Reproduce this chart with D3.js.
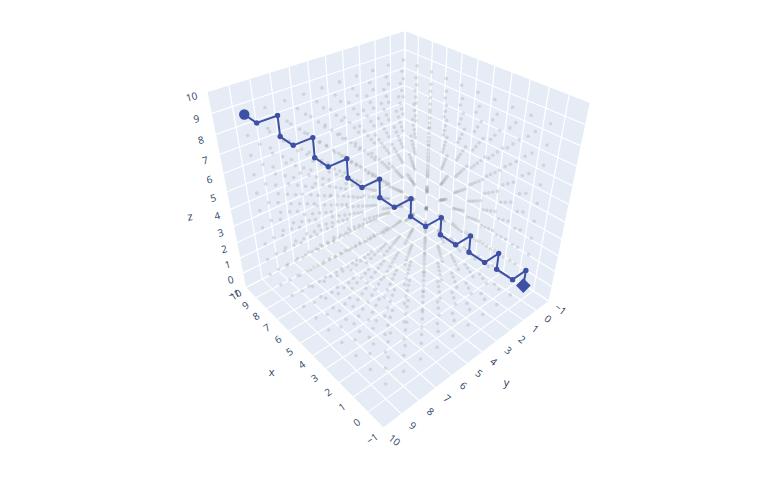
<!DOCTYPE html>
<html><head><meta charset="utf-8"><style>html,body{margin:0;background:#fff}text{font-family:"Open Sans",Verdana,Arial,sans-serif}</style>
<script src="https://cdn.jsdelivr.net/npm/d3@7"></script></head><body><div id="c"></div><script>
const W=782,H=478;
const tickValues=[-1,0,1,2,3,4,5,6,7,8,9,10];
const gridValues=[0,1,2,3,4,5,6,7,8,9];
const pathX=[9,8,8,8,7,7,7,6,6,6,5,5,5,4,4,4,3,3,3,2,2,2,1,1,1,0,0,0];
const pathY=[9,9,8,8,8,7,7,7,6,6,6,5,5,5,4,4,4,3,3,3,2,2,2,1,1,1,0,0];
const pathZ=[9,9,9,8,8,8,7,7,7,6,6,6,5,5,5,4,4,4,3,3,3,2,2,2,1,1,1,0];
const camera={az:2.4191,el:0.6234,dist:5.0286,focal:603.6022,cx:395.4159,cy:207.1581,roll:-0.0005};
const scale=d3.scaleLinear().domain([-1,10]).range([-1,1]);
function P(x,y,z){
 const {az,el,dist,focal,cx,cy,roll}=camera;
 const X=scale(x),Y=scale(y),Z=scale(z);
 const ex=dist*Math.cos(el)*Math.cos(az),ey=dist*Math.cos(el)*Math.sin(az),ez=dist*Math.sin(el);
 const dl=Math.hypot(ex,ey,ez),d=[-ex/dl,-ey/dl,-ez/dl];
 let r=[d[1],-d[0],0];const rl=Math.hypot(r[0],r[1]);r=[r[0]/rl,r[1]/rl,0];
 const u=[r[1]*d[2]-r[2]*d[1],r[2]*d[0]-r[0]*d[2],r[0]*d[1]-r[1]*d[0]];
 const v=[X-ex,Y-ey,Z-ez];
 const dep=v[0]*d[0]+v[1]*d[1]+v[2]*d[2];
 const a=(v[0]*r[0]+v[1]*r[1]+v[2]*r[2])/dep,b=(v[0]*u[0]+v[1]*u[1]+v[2]*u[2])/dep;
 const c=Math.cos(roll),s=Math.sin(roll);
 return [cx+focal*(a*c-b*s),cy-focal*(a*s+b*c)];
}
const svg=d3.select("#c").append("svg").attr("width",W).attr("height",H).style("display","block");
const line=d3.line();
const wall="#E5ECF6",ink="#3d50a5",label="#2a3f5f";
svg.append("path").attr("d",line([P(10,10,-1),P(10,-1,-1),P(-1,-1,-1),P(-1,10,-1)])+"Z").attr("fill",wall);
svg.append("path").attr("d",line([P(10,10,-1),P(10,10,10),P(10,-1,10),P(10,-1,-1)])+"Z").attr("fill",wall);
svg.append("path").attr("d",line([P(10,-1,-1),P(10,-1,10),P(-1,-1,10),P(-1,-1,-1)])+"Z").attr("fill",wall);
const gl=[];
tickValues.forEach(t=>{gl.push([P(t,-1,-1),P(t,10,-1)],[P(-1,t,-1),P(10,t,-1)],[P(10,t,-1),P(10,t,10)],[P(10,-1,t),P(10,10,t)],[P(t,-1,-1),P(t,-1,10)],[P(10,-1,t),P(-1,-1,t)]);});
svg.append("g").selectAll("path").data(gl).join("path").attr("d",d=>line(d)).attr("stroke","#fff").attr("stroke-width",1.2).attr("fill","none");
const cloud=[];
gridValues.forEach(x=>gridValues.forEach(y=>gridValues.forEach(z=>cloud.push(P(x,y,z)))));
svg.append("g").attr("fill","#808080").attr("fill-opacity",.22).selectAll("circle").data(cloud).join("circle").attr("cx",d=>d[0]).attr("cy",d=>d[1]).attr("r",1.8);
const pts=pathX.map((x,i)=>P(x,pathY[i],pathZ[i]));
svg.append("path").attr("d",line(pts)).attr("fill","none").attr("stroke",ink).attr("stroke-width",2);
const n=pts.length-1;
svg.append("g").attr("fill",ink).selectAll("circle").data(pts.slice(1,n)).join("circle").attr("cx",d=>d[0]).attr("cy",d=>d[1]).attr("r",2.7);
svg.append("circle").attr("cx",pts[0][0]).attr("cy",pts[0][1]).attr("r",5.2).attr("fill",ink);
svg.append("path").attr("d",d3.symbol(d3.symbolSquare,108)()).attr("transform",`translate(${pts[n][0]},${pts[n][1]}) rotate(45)`).attr("fill",ink);
const fmt=t=>t<0?"\u2212"+(-t):""+t;
function ticks(pos,rot){
 svg.append("g").selectAll("text").data(tickValues).join("text").text(fmt)
  .attr("transform",t=>{const q=pos(t);return `translate(${q[0]},${q[1]}) rotate(${rot})`;})
  .attr("text-anchor","middle").attr("dominant-baseline","central").attr("font-size",10).attr("fill",label);
}
ticks(t=>P(t,10.6,-1.1),-35);
ticks(t=>P(-1.7,t,-1),38);
ticks(t=>P(10,10.68,t),-14);
[["x",271.5,371.5,0],["y",506.5,382,8],["z",190,216,-8]].forEach(([s,x,y,r])=>{
 svg.append("text").text(s).attr("transform",`translate(${x},${y}) rotate(${r})`).attr("text-anchor","middle").attr("dominant-baseline","central").attr("font-size",11).attr("fill",label);
});
</script></body></html>
